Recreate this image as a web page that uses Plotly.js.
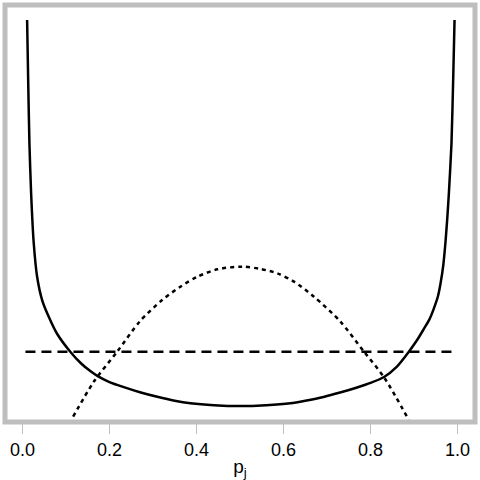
<!DOCTYPE html>
<html>
<head>
<meta charset="utf-8">
<script src="https://cdn.plot.ly/plotly-3.0.1.min.js"></script>
<style>html,body{margin:0;padding:0;background:#fff;}#chart{width:480px;height:480px;}</style>
</head>
<body>
<div id="chart"></div>
<script>
// Solid U-shaped curve
const solidP = [0.0108,0.0131,0.0161,0.020,0.026,0.0338,0.0453,0.0605,0.080,0.110,0.135,0.156,0.173,0.200,0.233,0.270,0.310,0.350,0.386,0.440,0.500,0.560,0.616,0.650,0.692,0.730,0.769,0.800,0.831,0.860,0.888,0.907,0.9225,0.935,0.946,0.955,0.961,0.967,0.972,0.976,0.980,0.986,0.990,0.993];
const solidV = [2.965,2.629,2.236,1.940,1.644,1.444,1.306,1.207,1.105,1.0,0.930,0.885,0.855,0.820,0.790,0.760,0.733,0.710,0.695,0.683,0.678,0.683,0.695,0.710,0.732,0.758,0.788,0.815,0.850,0.910,1.0,1.069,1.135,1.190,1.260,1.330,1.407,1.510,1.644,1.780,1.940,2.236,2.629,2.965];
// Dashed flat line
const dashP = [0.007, 0.986];
const dashV = [1.0, 1.0];
// Dotted hump
const dotP = [0.1166,0.164,0.2177,0.27,0.321,0.363,0.402,0.448,0.505,0.547,0.586,0.624,0.670,0.73,0.785,0.831,0.888];
const dotV = [0.615,0.822,1.0,1.18,1.306,1.385,1.444,1.488,1.504,1.490,1.464,1.415,1.326,1.18,1.0,0.848,0.595];
// Axis ticks
const tickVals = [0, 0.2, 0.4, 0.6, 0.8, 1.0];
const tickText = ["0.0", "0.2", "0.4", "0.6", "0.8", "1.0"];

const FONT = "Liberation Sans, Arial, Helvetica, sans-serif";

const traces = [
  {x: solidP, y: solidV, mode: "lines", line: {color: "#000", width: 2.5, shape: "spline", smoothing: 0.6}, hoverinfo: "skip"},
  {x: dashP, y: dashV, mode: "lines", line: {color: "#000", width: 2.5, dash: "10px,6px"}, hoverinfo: "skip"},
  {x: dotP, y: dotV, mode: "lines", line: {color: "#000", width: 2.5, dash: "4px,4px", shape: "spline", smoothing: 0.8}, hoverinfo: "skip"}
];

const layout = {
  width: 480, height: 480,
  margin: {l: 5, r: 5, t: 5, b: 58, pad: 0},
  paper_bgcolor: "#fff", plot_bgcolor: "#fff",
  showlegend: false,
  font: {family: FONT, color: "#000"},
  xaxis: {
    range: [-0.04, 1.04],
    tickvals: tickVals, ticktext: tickText,
    ticks: "outside", ticklen: 11, tickwidth: 1, tickcolor: "#bebebe",
    tickfont: {size: 18, family: FONT, color: "#000"},
    showgrid: false, zeroline: false, showline: false,
    title: {text: "p<sub>j</sub>", font: {size: 19, family: FONT, color: "#000"}, standoff: 2}
  },
  yaxis: {
    range: [0.5835, 3.054],
    showticklabels: false, ticks: "", showgrid: false, zeroline: false, showline: false
  },
  shapes: [
    {type: "rect", xref: "paper", yref: "paper", x0: 0, x1: 1, y0: 0, y1: 1,
     line: {color: "#bebebe", width: 5}, fillcolor: "rgba(0,0,0,0)", layer: "above"}
  ]
};

Plotly.newPlot("chart", traces, layout, {staticPlot: true, displayModeBar: false});
</script>
</body>
</html>
